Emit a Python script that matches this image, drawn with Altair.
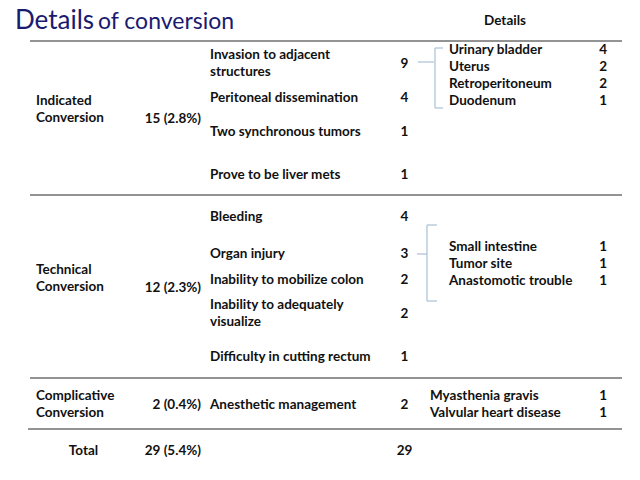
import altair as alt
import pandas as pd

# ---------------- data ----------------
title_main = "Details"
title_rest = "of conversion"
details_header = "Details"

groups = ["Indicated\nConversion", "Technical\nConversion", "Complicative\nConversion"]
group_counts = ["15 (2.8%)", "12 (2.3%)", "2 (0.4%)"]
total_label = "Total"
total_count = "29 (5.4%)"

reasons = [
    "Invasion to adjacent\nstructures",
    "Peritoneal dissemination",
    "Two synchronous tumors",
    "Prove to be liver mets",
    "Bleeding",
    "Organ injury",
    "Inability to mobilize colon",
    "Inability to adequately\nvisualize",
    "Difficulty in cutting rectum",
    "Anesthetic management",
]
reason_counts = [9, 4, 1, 1, 4, 3, 2, 2, 1, 2]
reason_total = 29

details = [
    "Urinary bladder", "Uterus", "Retroperitoneum", "Duodenum",
    "Small intestine", "Tumor site", "Anastomotic trouble",
    "Myasthenia gravis", "Valvular heart disease",
]
detail_counts = [4, 2, 2, 1, 1, 1, 1, 1, 1]

# ---------------- layout (page pixel grid) ----------------
group_y = [101, 270, 396]            # first line of each label
group_count_y = [119, 288, 405]
total_y = 451
reason_y = [55, 98, 132, 175, 217, 254, 280, 305, 357, 405]   # first line
reason_count_y = [63.5, 98, 132, 175, 217, 254, 280, 313.5, 357, 405]
detail_y = [50, 67, 84, 101, 247, 264, 281, 396, 413]
detail_x = [449] * 7 + [430] * 2

COL1_X, COL2_RX, COL3_X, COL4_CX, COL6_RX = 36, 201, 210, 404.5, 607
TOTAL_CX = 83.5

sep_y = [41, 195, 378, 429]
sep_x1 = [30, 30, 30, 28]
sep_x2 = [622, 622, 622, 622]

FONT = "Lato"
TXT = "#111111"

X = dict(scale=alt.Scale(domain=[8, 632], nice=False, zero=False), axis=None)
Y = dict(scale=alt.Scale(domain=[8, 472], nice=False, zero=False, reverse=True), axis=None)

# ---------------- tables ----------------
left_rows = []
for t, y in zip(groups, group_y):
    left_rows.append({"t": t, "x": COL1_X, "y": y})
for t, y in zip(reasons, reason_y):
    left_rows.append({"t": t, "x": COL3_X, "y": y})
for t, x, y in zip(details, detail_x, detail_y):
    left_rows.append({"t": t, "x": x, "y": y})
left_df = pd.DataFrame(left_rows)

right_rows = []
for t, y in zip(group_counts, group_count_y):
    right_rows.append({"t": t, "x": COL2_RX, "y": y})
right_rows.append({"t": total_count, "x": COL2_RX, "y": total_y})
for c, y in zip(detail_counts, detail_y):
    right_rows.append({"t": str(c), "x": COL6_RX, "y": y})
right_df = pd.DataFrame(right_rows)

center_rows = []
for c, y in zip(reason_counts, reason_count_y):
    center_rows.append({"t": str(c), "x": COL4_CX, "y": y})
center_rows.append({"t": str(reason_total), "x": COL4_CX, "y": total_y})
center_rows.append({"t": total_label, "x": TOTAL_CX, "y": total_y})
center_rows.append({"t": details_header, "x": 505, "y": 21})
center_df = pd.DataFrame(center_rows)

sep_df = pd.DataFrame({"x": sep_x1, "x2": sep_x2, "y": sep_y})

# bracket segments
br = [
    (418, 434, 62, 62), (435, 435, 48, 108), (435, 443, 48, 48), (435, 443, 108, 108),
    (417, 427, 254, 254), (427, 427, 225, 301), (427, 437, 225, 225), (427, 437, 301, 301),
]
br_df = pd.DataFrame(br, columns=["x", "x2", "y", "y2"])

title_df = pd.DataFrame({"t": [title_main, title_rest], "x": [15, 98], "y": [29, 29], "s": [26, 23]})

# ---------------- layers ----------------
seps = alt.Chart(sep_df).mark_rule(color="#939393", strokeWidth=2).encode(
    x=alt.X("x:Q", **X), x2="x2:Q", y=alt.Y("y:Q", **Y)
)
brackets = alt.Chart(br_df).mark_rule(color="#a9bfd6", strokeWidth=1.2).encode(
    x=alt.X("x:Q", **X), x2="x2:Q", y=alt.Y("y:Q", **Y), y2="y2:Q"
)

common = dict(font=FONT, fontSize=13.5, fontWeight="bold", color=TXT, baseline="middle", lineBreak="\n", lineHeight=17)

left = alt.Chart(left_df).mark_text(align="left", **common).encode(
    x=alt.X("x:Q", **X), y=alt.Y("y:Q", **Y), text="t:N"
)
right = alt.Chart(right_df).mark_text(align="right", **common).encode(
    x=alt.X("x:Q", **X), y=alt.Y("y:Q", **Y), text="t:N"
)
center = alt.Chart(center_df).mark_text(align="center", **common).encode(
    x=alt.X("x:Q", **X), y=alt.Y("y:Q", **Y), text="t:N"
)
title = alt.Chart(title_df).mark_text(
    align="left", baseline="alphabetic", font=FONT, color="#1a1a70"
).encode(
    x=alt.X("x:Q", **X), y=alt.Y("y:Q", **Y), text="t:N",
    size=alt.Size("s:Q", scale=None, legend=None),
)

chart = alt.layer(seps, brackets, left, right, center, title).properties(
    width=624, height=464, padding=0, autosize=alt.AutoSizeParams(type="none"),
    background="white",
).configure_view(stroke=None)

chart.save("out.html", embed_options={"renderer": "svg", "actions": False})
